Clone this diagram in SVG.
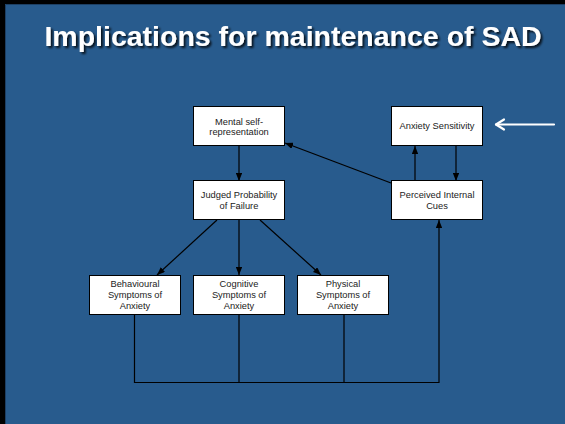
<svg xmlns="http://www.w3.org/2000/svg" width="565" height="424" viewBox="0 0 565 424">
<defs>
<marker id="ah" viewBox="0 0 10 8" refX="10" refY="4" markerWidth="8" markerHeight="6.4" markerUnits="userSpaceOnUse" orient="auto">
<path d="M0,0 L10,4 L0,8 Z" fill="#000"/>
</marker>
<filter id="sh" x="-5%" y="-20%" width="110%" height="150%">
<feGaussianBlur in="SourceAlpha" stdDeviation="1"/>
<feOffset dx="2" dy="2" result="o"/>
<feComponentTransfer><feFuncA type="linear" slope="0.8"/></feComponentTransfer>
<feMerge><feMergeNode/><feMergeNode in="SourceGraphic"/></feMerge>
</filter>
</defs>
<style>
.box{fill:#fff;stroke:#000;stroke-width:1}
.lbl{font-family:"Liberation Sans",Arial,sans-serif;font-size:9.3px;fill:#222;text-anchor:middle}
.con{stroke:#000;stroke-width:1.2;fill:none}
.title{font-family:"Liberation Sans",Arial,sans-serif;font-size:28.5px;font-weight:bold;fill:#fff;text-anchor:middle}
</style>
<rect x="0" y="0" width="565" height="424" fill="#000"/>
<rect x="5" y="4" width="560" height="420" fill="#285B8D"/>
<path d="M5.5,424 V4.5 H565" fill="none" stroke="#1d3f63" stroke-width="1"/>
<text class="title" x="293" y="46" filter="url(#sh)">Implications for maintenance of SAD</text>

<g id="connectors">
<line class="con" x1="239" y1="146" x2="239" y2="181" marker-end="url(#ah)"/>
<line class="con" x1="391" y1="183" x2="285" y2="143" marker-end="url(#ah)"/>
<line class="con" x1="415" y1="181" x2="415" y2="146" marker-end="url(#ah)"/>
<line class="con" x1="456" y1="146" x2="456" y2="181" marker-end="url(#ah)"/>
<line class="con" x1="217" y1="220" x2="157" y2="275" marker-end="url(#ah)"/>
<line class="con" x1="239" y1="220" x2="239" y2="275" marker-end="url(#ah)"/>
<line class="con" x1="260" y1="220" x2="321" y2="275" marker-end="url(#ah)"/>
<polyline class="con" points="134.5,314 134.5,382.5 439,382.5 439,220" marker-end="url(#ah)"/>
<line class="con" x1="239" y1="314" x2="239" y2="382.5"/>
<line class="con" x1="344" y1="314" x2="344" y2="382.5"/>
<g id="white-arrow" stroke="#fff" stroke-width="2.2" fill="none" stroke-linecap="round" stroke-linejoin="round">
<line x1="554" y1="124.5" x2="496" y2="124.5"/>
<polyline points="504,119.5 496,124.5 504,129.5"/>
</g>
</g>

<g id="mental">
<rect class="box" x="193.5" y="106.5" width="91" height="39"/>
<text class="lbl" x="239" y="124.5">Mental self-</text>
<text class="lbl" x="239" y="135">representation</text>
</g>
<g id="anxiety-sensitivity">
<rect class="box" x="391.5" y="106.5" width="91" height="39"/>
<text class="lbl" x="437" y="129">Anxiety Sensitivity</text>
</g>
<g id="judged">
<rect class="box" x="193.5" y="180.5" width="91" height="39"/>
<text class="lbl" x="239" y="198.3">Judged Probability</text>
<text class="lbl" x="239" y="208.6">of Failure</text>
</g>
<g id="perceived">
<rect class="box" x="391.5" y="180.5" width="91" height="39"/>
<text class="lbl" x="437" y="198.3">Perceived Internal</text>
<text class="lbl" x="437" y="208.6">Cues</text>
</g>
<g id="behavioural">
<rect class="box" x="89.5" y="275.5" width="91" height="39"/>
<text class="lbl" x="135" y="287">Behavioural</text>
<text class="lbl" x="135" y="298">Symptoms of</text>
<text class="lbl" x="135" y="309">Anxiety</text>
</g>
<g id="cognitive">
<rect class="box" x="193.5" y="275.5" width="91" height="39"/>
<text class="lbl" x="239" y="287">Cognitive</text>
<text class="lbl" x="239" y="298">Symptoms of</text>
<text class="lbl" x="239" y="309">Anxiety</text>
</g>
<g id="physical">
<rect class="box" x="297.5" y="275.5" width="91" height="39"/>
<text class="lbl" x="343" y="287">Physical</text>
<text class="lbl" x="343" y="298">Symptoms of</text>
<text class="lbl" x="343" y="309">Anxiety</text>
</g>
</svg>
